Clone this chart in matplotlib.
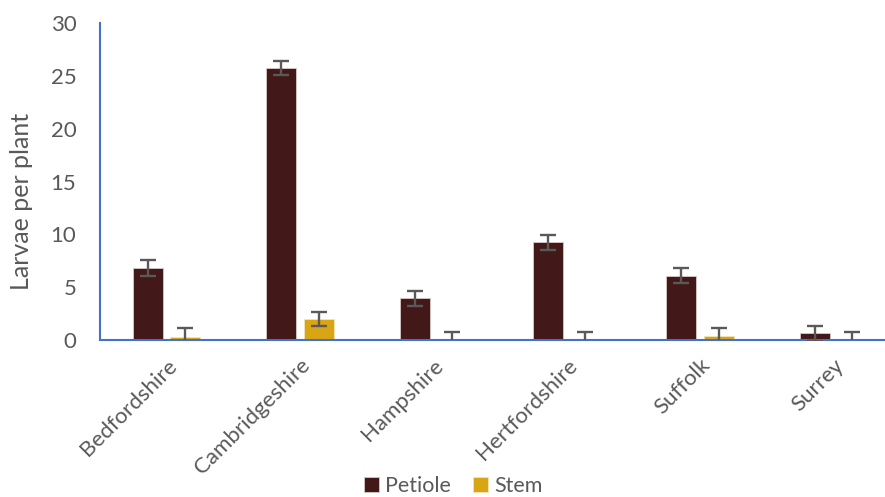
import numpy as np
import matplotlib
matplotlib.use("Agg")
import matplotlib.pyplot as plt

plt.rcParams['font.family'] = ['Lato', 'DejaVu Sans']

counties = ["Bedfordshire", "Cambridgeshire", "Hampshire", "Hertfordshire", "Suffolk", "Surrey"]
petiole = [6.8, 25.75, 3.95, 9.25, 6.1, 0.65]
petiole_err = [0.75, 0.68, 0.7, 0.7, 0.7, 0.7]
stem = [0.3, 2.0, 0.08, 0.0, 0.38, 0.0]
stem_err = [0.8, 0.68, 0.72, 0.75, 0.73, 0.75]
yticks = [0, 5, 10, 15, 20, 25, 30]

fig = plt.figure(figsize=(8.85, 4.97), dpi=100)
# plot area runs a little past the right edge of the figure
ax = fig.add_axes([100 / 885, 1 - 340 / 497, 800 / 885, 317 / 497])

x = np.arange(len(counties))
w = 0.225
off = 0.14
text_c = "#595959"
axis_c = "#4472C4"

ax.bar(x - off, petiole, w, color="#431818", edgecolor="#d9c9c9", linewidth=0.6,
       label="Petiole", zorder=2)
ax.bar(x + off, stem, w, color="#DAA515", edgecolor="#f3e3b8", linewidth=0.6,
       label="Stem", zorder=2)
ekw = dict(fmt="none", ecolor="#595959", elinewidth=1.7, capsize=6, capthick=1.7, zorder=3)
ax.errorbar(x - off, petiole, yerr=petiole_err, **ekw)
ax.errorbar(x + off, stem, yerr=stem_err, **ekw)

ax.set_xlim(-0.5, len(counties) - 0.5)
ax.set_ylim(0, 30)
ax.set_yticks(yticks)
ax.set_yticklabels([str(t) for t in yticks], fontsize=16, color=text_c)
ax.set_xticks(x)
ax.set_xticklabels(counties, rotation=45, ha="right", va="top",
                   rotation_mode="anchor", fontsize=16, color=text_c)
ax.tick_params(axis="both", length=0)
ax.tick_params(axis="y", pad=17)
ax.tick_params(axis="x", pad=11)

for s in ["top", "right"]:
    ax.spines[s].set_visible(False)
for s in ["left", "bottom"]:
    ax.spines[s].set_color(axis_c)
    ax.spines[s].set_linewidth(1.5)

ax.set_ylabel("Larvae per plant", fontsize=18, color=text_c)
ax.yaxis.set_label_coords(-0.084, 0.438)

leg = fig.legend(loc="center", bbox_to_anchor=(453 / 885, 1 - 486 / 497), ncol=2,
                 frameon=False, fontsize=15.5, handlelength=0.7, handleheight=0.7,
                 handletextpad=0.3, columnspacing=1.0)
for t in leg.get_texts():
    t.set_color(text_c)

fig.savefig("out.png", dpi=100)
